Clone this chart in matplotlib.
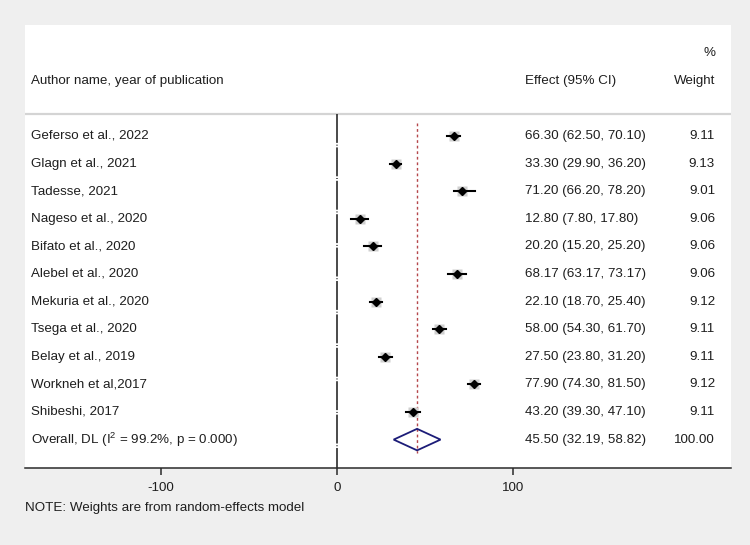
import matplotlib

matplotlib.use("Agg")

import matplotlib.pyplot as plt

# study data (percent estimates, 95% CI, weights)
studies = [
    "Geferso et al., 2022",
    "Glagn et al., 2021",
    "Tadesse, 2021",
    "Nageso et al., 2020",
    "Bifato et al., 2020",
    "Alebel et al., 2020",
    "Mekuria et al., 2020",
    "Tsega et al., 2020",
    "Belay et al., 2019",
    "Workneh et al,2017",
    "Shibeshi, 2017",
]
effect = [66.30, 33.30, 71.20, 12.80, 20.20, 68.17, 22.10, 58.00, 27.50, 77.90, 43.20]
ci_low = [62.50, 29.90, 66.20, 7.80, 15.20, 63.17, 18.70, 54.30, 23.80, 74.30, 39.30]
ci_high = [70.10, 36.20, 78.20, 17.80, 25.20, 73.17, 25.40, 61.70, 31.20, 81.50, 47.10]
weights = [9.11, 9.13, 9.01, 9.06, 9.06, 9.06, 9.12, 9.11, 9.11, 9.12, 9.11]

overall_label = "Overall, DL (I$^{2}$ = 99.2%, p = 0.000)"
overall_effect = 45.50
overall_low = 32.19
overall_high = 58.82
overall_weight = 100.00

x_ticks = [-100, 0, 100]

plt.rcParams["font.family"] = ["Liberation Sans", "DejaVu Sans"]
plt.rcParams["mathtext.fontset"] = "custom"
plt.rcParams["mathtext.rm"] = "Liberation Sans"
plt.rcParams["mathtext.it"] = "Liberation Sans"

W, H = 750, 545
fig = plt.figure(figsize=(W / 100, H / 100), dpi=100, facecolor="#efefef")
left_px, right_px, top_px, bottom_px = 25, 731, 25, 468
ax = fig.add_axes([left_px / W, 1 - bottom_px / H, (right_px - left_px) / W, (bottom_px - top_px) / H])
ax.set_facecolor("white")

# x scale: 0 at px 337, 176 px per 100 units
px_per_unit = 1.76
ax.set_xlim((left_px - 337) / px_per_unit, (right_px - 337) / px_per_unit)
row_h = 27.6
row0 = 136
ax.set_ylim((bottom_px - row0) / row_h, (top_px - row0) / row_h)

fs = 9.6
tc = "#1e1e1e"
x_label = (31 - 337) / px_per_unit
x_effect = (525 - 337) / px_per_unit
x_weight = (715 - 337) / px_per_unit

n = len(studies)
overall_row = n

# header
ax.text(x_weight, -3.0, "%", ha="right", va="center", fontsize=fs, color=tc)
ax.text(x_label, -2.0, "Author name, year of publication", ha="left", va="center", fontsize=fs, color=tc)
ax.text(x_effect, -2.0, "Effect (95% CI)", ha="left", va="center", fontsize=fs, color=tc)
ax.text(x_weight, -2.0, "Weight", ha="right", va="center", fontsize=fs, color=tc)
ax.axhline(-0.8, color="#d4d4d4", lw=1.6)

# reference lines
ax.plot([0, 0], [-0.8, (bottom_px - row0) / row_h], color="#3a3a3a", lw=1.3,
        dashes=(16, 1, 0.5, 1))
ax.plot([overall_effect, overall_effect], [-0.47, 11.5], color="#b5474b", lw=1.0,
        dashes=(2, 2))

# study rows
for i, name in enumerate(studies):
    ax.text(x_label, i, name, ha="left", va="center", fontsize=fs, color=tc)
    ax.text(x_effect, i, f"{effect[i]:.2f} ({ci_low[i]:.2f}, {ci_high[i]:.2f})",
            ha="left", va="center", fontsize=fs, color=tc)
    ax.text(x_weight, i, f"{weights[i]:.2f}", ha="right", va="center", fontsize=fs, color=tc)
    ax.plot([ci_low[i], ci_high[i]], [i, i], color="black", lw=1.5, zorder=3)
    ax.plot(effect[i], i, marker="s", ms=7.5, color="#cfcfcf", mec="none", zorder=2)
    ax.plot(effect[i], i, marker="D", ms=4.5, color="black", mec="black", zorder=4)

# overall
ax.text(x_label, overall_row, overall_label, ha="left", va="center", fontsize=fs, color=tc)
ax.text(x_effect, overall_row, f"{overall_effect:.2f} ({overall_low:.2f}, {overall_high:.2f})",
        ha="left", va="center", fontsize=fs, color=tc)
ax.text(x_weight, overall_row, f"{overall_weight:.2f}", ha="right", va="center", fontsize=fs, color=tc)
dh = 0.39
ax.fill([overall_low, overall_effect, overall_high, overall_effect, overall_low],
        [overall_row, overall_row - dh, overall_row, overall_row + dh, overall_row],
        facecolor="none", edgecolor="#1c1c78", lw=1.3, zorder=5)

# axis
for side in ["top", "left", "right"]:
    ax.spines[side].set_visible(False)
ax.spines["bottom"].set_color("#2a2a2a")
ax.spines["bottom"].set_linewidth(1.1)
ax.set_yticks([])
ax.set_xticks(x_ticks)
ax.set_xticklabels([str(t) for t in x_ticks])
ax.tick_params(axis="x", length=5, width=1.1, color="#2a2a2a", labelsize=fs, labelcolor=tc, pad=5)

fig.text(25 / W, 1 - 508 / H, "NOTE: Weights are from random-effects model",
         ha="left", va="center", fontsize=fs, color=tc)

fig.savefig("out.png", dpi=100, facecolor=fig.get_facecolor())
